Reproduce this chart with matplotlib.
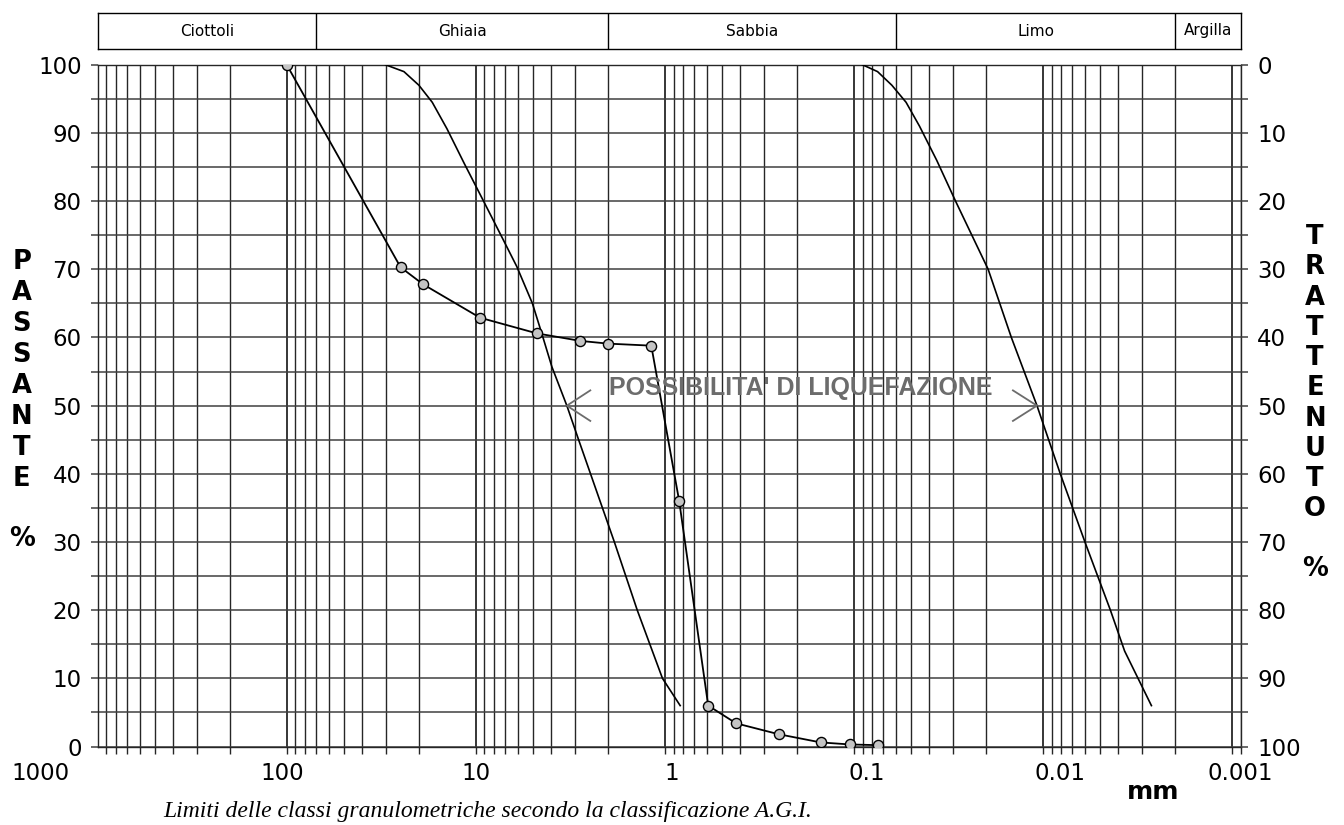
import numpy as np
import matplotlib.pyplot as plt
from matplotlib.transforms import ScaledTranslation

# sample grading curve (sieve opening in mm, % passing)
sieve_mm = [100, 25, 19, 9.5, 4.75, 2.8, 2.0, 1.18, 0.84, 0.59, 0.42, 0.25, 0.15, 0.105, 0.075]
passing = [100, 70.3, 67.8, 62.9, 60.6, 59.5, 59.1, 58.8, 36.0, 6.0, 3.4, 1.8, 0.6, 0.3, 0.2]

# band of soils liable to liquefaction: coarse and fine limits
coarse_mm = [30, 24, 20, 17, 14.2, 11.5, 9.1, 7.15, 6.07, 5.02, 4.48, 3.96, 3.30, 2.86, 1.85, 1.40, 1.03, 0.83]
coarse_pass = [100, 99, 97, 94.5, 90.6, 85.5, 80, 74.3, 70.4, 65, 60.6, 55.7, 50, 45, 30, 20, 10, 6]
fine_mm = [0.09, 0.075, 0.063, 0.053, 0.045, 0.0365, 0.029, 0.0195, 0.0147, 0.01076, 0.0081, 0.006,
           0.0044, 0.0037, 0.00267]
fine_pass = [100, 99, 97, 94.5, 91.0, 86, 80, 70, 60, 50, 40, 30, 20, 14, 6]

# A.G.I. classes
class_names = ['Ciottoli', 'Ghiaia', 'Sabbia', 'Limo', 'Argilla']
class_limits = [1000, 70, 2, 0.06, 0.002, 0.0009]

decades = [1000, 100, 10, 1, 0.1, 0.01, 0.001]
decade_labels = ['1000', '100', '10', '1', '0.1', '0.01', '0.001']
label_shift_px = [-57, -5, 0, 7, 13, 17, 8]

arrow_tips = [3.30, 0.01076]
arrow_tails = [2.48, 0.01442]

W, H = 1344, 825
fig = plt.figure(figsize=(W / 100, H / 100), dpi=100)
x0, x1 = 97.7, 1240.7
y_bot, y_top = 746.5, 64.8
ax = fig.add_axes([x0 / W, (H - y_bot) / H, (x1 - x0) / W, (y_bot - y_top) / H])
ax.set_xscale('log')
ax.set_xlim(class_limits[0], class_limits[-1])
ax.set_ylim(0, 100)

grid_col = '#262626'
vpos = [m * 10.0 ** k for k in range(-4, 3) for m in range(1, 10)]
vpos = [v for v in vpos if 0.00089 <= v <= 1000.1]
major = [v for v in vpos if np.isclose(np.log10(v), round(np.log10(v)))]
minor = [v for v in vpos if v not in major]
ax.vlines(minor, 0, 100, colors=grid_col, lw=1.0, zorder=1)
ax.vlines(major, 0, 100, colors=grid_col, lw=1.3, zorder=1)
ax.hlines(np.arange(0, 101, 5), class_limits[0], class_limits[-1], colors='#404040', lw=1.1, zorder=1)

ax.set_xticks(major)
ax.set_xticks(minor, minor=True)
ax.set_xticklabels([])
ax.tick_params(axis='x', which='both', direction='out', length=5, width=1.0,
               color=grid_col, bottom=True, top=False)
ax.set_yticks(np.arange(0, 101, 10))
ax.set_yticks(np.arange(5, 100, 10), minor=True)
ax.tick_params(axis='y', which='both', direction='out', length=5, width=1.1,
               color='#404040', labelsize=16.5, pad=6.5)
for sp in ax.spines.values():
    sp.set_linewidth(1.0)
    sp.set_color(grid_col)

ax2 = ax.twinx()
ax2.set_ylim(100, 0)
ax2.set_yticks(np.arange(0, 101, 10))
ax2.set_yticks(np.arange(5, 100, 10), minor=True)
ax2.tick_params(axis='y', which='both', direction='out', length=5, width=1.1,
                color='#404040', labelsize=16.5, pad=7)
for sp in ax2.spines.values():
    sp.set_visible(False)

# decade labels under the axis
for v, lab, dx in zip(decades, decade_labels, label_shift_px):
    tr = ax.get_xaxis_transform() + ScaledTranslation(dx / 100, -26.5 / 100, fig.dpi_scale_trans)
    ax.text(v, 0, lab, transform=tr, ha='center', va='center', fontsize=16.5)

# liquefaction band limits
ax.plot(coarse_mm, coarse_pass, color='black', lw=1.2, zorder=3)
ax.plot(fine_mm, fine_pass, color='black', lw=1.2, zorder=3)

# sample curve
ax.plot(sieve_mm, passing, color='black', lw=1.3, marker='o', ms=7.3,
        mfc='#c4c4c4', mec='black', mew=1.0, zorder=4)

gray = '#6c6c6c'
ax.text(0.19, 52.6, "POSSIBILITA' DI LIQUEFAZIONE", ha='center', va='center',
        fontsize=18, fontweight='bold', color=gray, family='Liberation Sans', zorder=5)
for tip, tail in zip(arrow_tips, arrow_tails):
    ax.plot([tail, tip, tail], [52.24, 50, 47.76], color=gray, lw=1.3, zorder=5)

# class band on top
band = fig.add_axes([x0 / W, (H - 49) / H, (x1 - x0) / W, 36 / H])
band.set_xscale('log')
band.set_xlim(class_limits[0], class_limits[-1])
band.set_ylim(0, 1)
band.set_xticks([])
band.set_yticks([])
band.minorticks_off()
band.vlines(class_limits[1:-1], 0, 1, colors='black', lw=1.0)
for sp in band.spines.values():
    sp.set_linewidth(1.0)
for name, a, b in zip(class_names, class_limits[:-1], class_limits[1:]):
    band.text(np.sqrt(a * b), 0.5, name, ha='center', va='center', fontsize=11)

# axis titles written letter by letter
for i, ch in enumerate('PASSANTE'):
    fig.text(21.7 / W, 1 - (262.3 + i * 30.9) / H, ch, ha='center', va='center',
             fontsize=18.5, fontweight='bold')
fig.text(21.7 / W, 1 - 539 / H, '%', ha='center', va='center', fontsize=18.5, fontweight='bold')
for i, ch in enumerate('TRATTENUTO'):
    fig.text(1315 / W, 1 - (237.3 + i * 30.2) / H, ch, ha='center', va='center',
             fontsize=18.5, fontweight='bold')
fig.text(1315 / W, 1 - 569 / H, '%', ha='center', va='center', fontsize=18.5, fontweight='bold')

fig.text(1153 / W, 1 - 792 / H, 'mm', ha='center', va='center', fontsize=18, fontweight='bold')
fig.text(163 / W, 1 - 812 / H, 'Limiti delle classi granulometriche secondo la classificazione A.G.I.',
         ha='left', va='center', fontsize=17, style='italic', family='Liberation Serif')

fig.savefig('out.png', dpi=100)
